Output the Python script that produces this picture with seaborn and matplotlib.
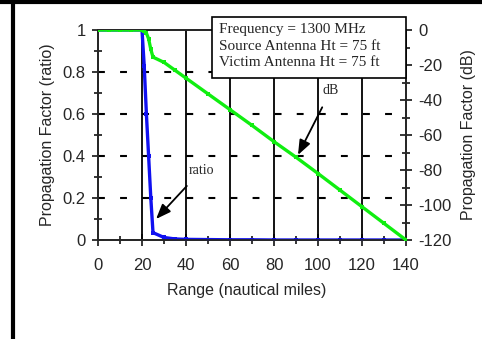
import numpy as np
import pandas as pd
import matplotlib
matplotlib.use("Agg")
import matplotlib.pyplot as plt
import seaborn as sns
from matplotlib.patches import Rectangle
from matplotlib.lines import Line2D

# values
range_nm = [0, 5, 10, 15, 20, 21, 22, 23, 24, 25, 30, 35, 40, 50, 60,
            70, 80, 90, 100, 110, 120, 130, 140]
ratio = [1, 1, 1, 1, 1, 0.83, 0.6, 0.4, 0.2, 0.035, 0.012, 0.005, 0.003,
         0.002, 0.001, 0.001, 0.0, 0.0, 0.0, 0.0, 0.0, 0.0, 0.0]
loss_db = [0, 0, 0, 0, 0, -0.6, -1.8, -5, -11, -15.5, -18.5, -23, -27.5,
           -36.5, -45.5, -54.5, -63.8, -72.7, -82, -91.5, -101, -110.5, -120]
x_ticks = [0, 20, 40, 60, 80, 100, 120, 140]
ratio_ticks = [0, 0.2, 0.4, 0.6, 0.8, 1]
ratio_labels = ["0", "0.2", "0.4", "0.6", "0.8", "1"]
db_ticks = [-120, -100, -80, -60, -40, -20, 0]
box_lines = ["Frequency = 1300 MHz",
             "Source Antenna Ht = 75 ft",
             "Victim Antenna Ht = 75 ft"]

df = pd.DataFrame({"Range": range_nm, "Ratio": ratio, "dB": loss_db})

sns.set_style("ticks")
plt.rcParams["font.family"] = ["Liberation Sans", "DejaVu Sans"]
plt.rcParams["axes.unicode_minus"] = False
serif = ["Liberation Serif", "DejaVu Serif"]

W, H = 482, 339
fig = plt.figure(figsize=(W / 100, H / 100), dpi=100)
ax = fig.add_axes([98 / W, 1 - 240 / H, 308 / W, 210 / H])
ax2 = ax.twinx()

# grid: solid verticals, dashed horizontals
for x in x_ticks[1:-1]:
    ax.axvline(x, color="black", lw=1.3, zorder=1)
for y in ratio_ticks[1:-1]:
    ax.axhline(y, color="black", lw=1.5, ls=(0, (3.3, 7.3)), zorder=1)

sns.lineplot(data=df, x="Range", y="Ratio", ax=ax, color="#1010f0", lw=2.4,
             marker="s", markersize=3, markeredgewidth=0, zorder=3)
sns.lineplot(data=df, x="Range", y="dB", ax=ax2, color="#10ee10", lw=2.4,
             marker="s", markersize=3, markeredgewidth=0, zorder=3)

ax.set_xlim(0, 140)
ax.set_ylim(0, 1)
ax2.set_ylim(-120, 0)
ax.set_xlabel("")
ax.set_ylabel("")
ax2.set_ylabel("")

ax.set_xticks(x_ticks)
ax.set_xticks(list(range(10, 140, 20)), minor=True)
ax.set_yticks(ratio_ticks, ratio_labels)
ax.set_yticks([0.1, 0.3, 0.5, 0.7, 0.9], minor=True)
ax2.set_yticks(db_ticks)
ax2.set_yticks(list(range(-110, 0, 20)), minor=True)

for a in (ax, ax2):
    a.tick_params(which="major", direction="inout", length=8, width=1.3,
                  labelsize=12, pad=5)
    a.tick_params(which="minor", direction="inout", length=6, width=1.3)
    for s in a.spines.values():
        s.set_linewidth(1.3)
        s.set_visible(True)
ax.tick_params(axis="x", pad=9)
ax2.set_zorder(ax.get_zorder() + 1)
ax2.patch.set_visible(False)

# info box
fig.add_artist(Rectangle((212 / W, 1 - 78 / H), 194 / W, 61 / H,
                         transform=fig.transFigure, facecolor="white",
                         edgecolor="black", lw=1.2, zorder=10))
for i, line in enumerate(box_lines):
    fig.text(219 / W, 1 - (29 + 17 * i) / H, line, family=serif,
             fontsize=11, va="center", ha="left", zorder=11)

# annotations
ax.annotate("dB", xy=(90.9, 0.405), xytext=(105.9, 0.714), family=serif,
            fontsize=10, ha="center", va="center",
            arrowprops=dict(arrowstyle="-|>,head_length=0.9,head_width=0.35",
                            color="black", lw=1.3, shrinkA=6, shrinkB=0),
            zorder=5)
ax.annotate("ratio", xy=(26.4, 0.1), xytext=(47.1, 0.333), family=serif,
            fontsize=10, ha="center", va="center",
            arrowprops=dict(arrowstyle="-|>,head_length=0.9,head_width=0.35",
                            color="black", lw=1.3, shrinkA=6, shrinkB=0),
            zorder=5)

# axis titles
fig.text(48 / W, 1 - 135 / H, "Propagation Factor (ratio)", rotation=90,
         fontsize=11.5, ha="center", va="center")
fig.text(468 / W, 1 - 135 / H, "Propagation Factor (dB)", rotation=90,
         fontsize=11.5, ha="center", va="center")
fig.text(247 / W, 1 - 290 / H, "Range (nautical miles)", fontsize=11.5,
         ha="center", va="center")

# page border (left and top)
fig.add_artist(Line2D([12.5 / W, 12.5 / W], [0, 1], color="black", lw=3,
                      transform=fig.transFigure))
fig.add_artist(Line2D([0, 1], [1 - 1.5 / H, 1 - 1.5 / H], color="black",
                      lw=3, transform=fig.transFigure))

fig.savefig("out.png", dpi=100)
